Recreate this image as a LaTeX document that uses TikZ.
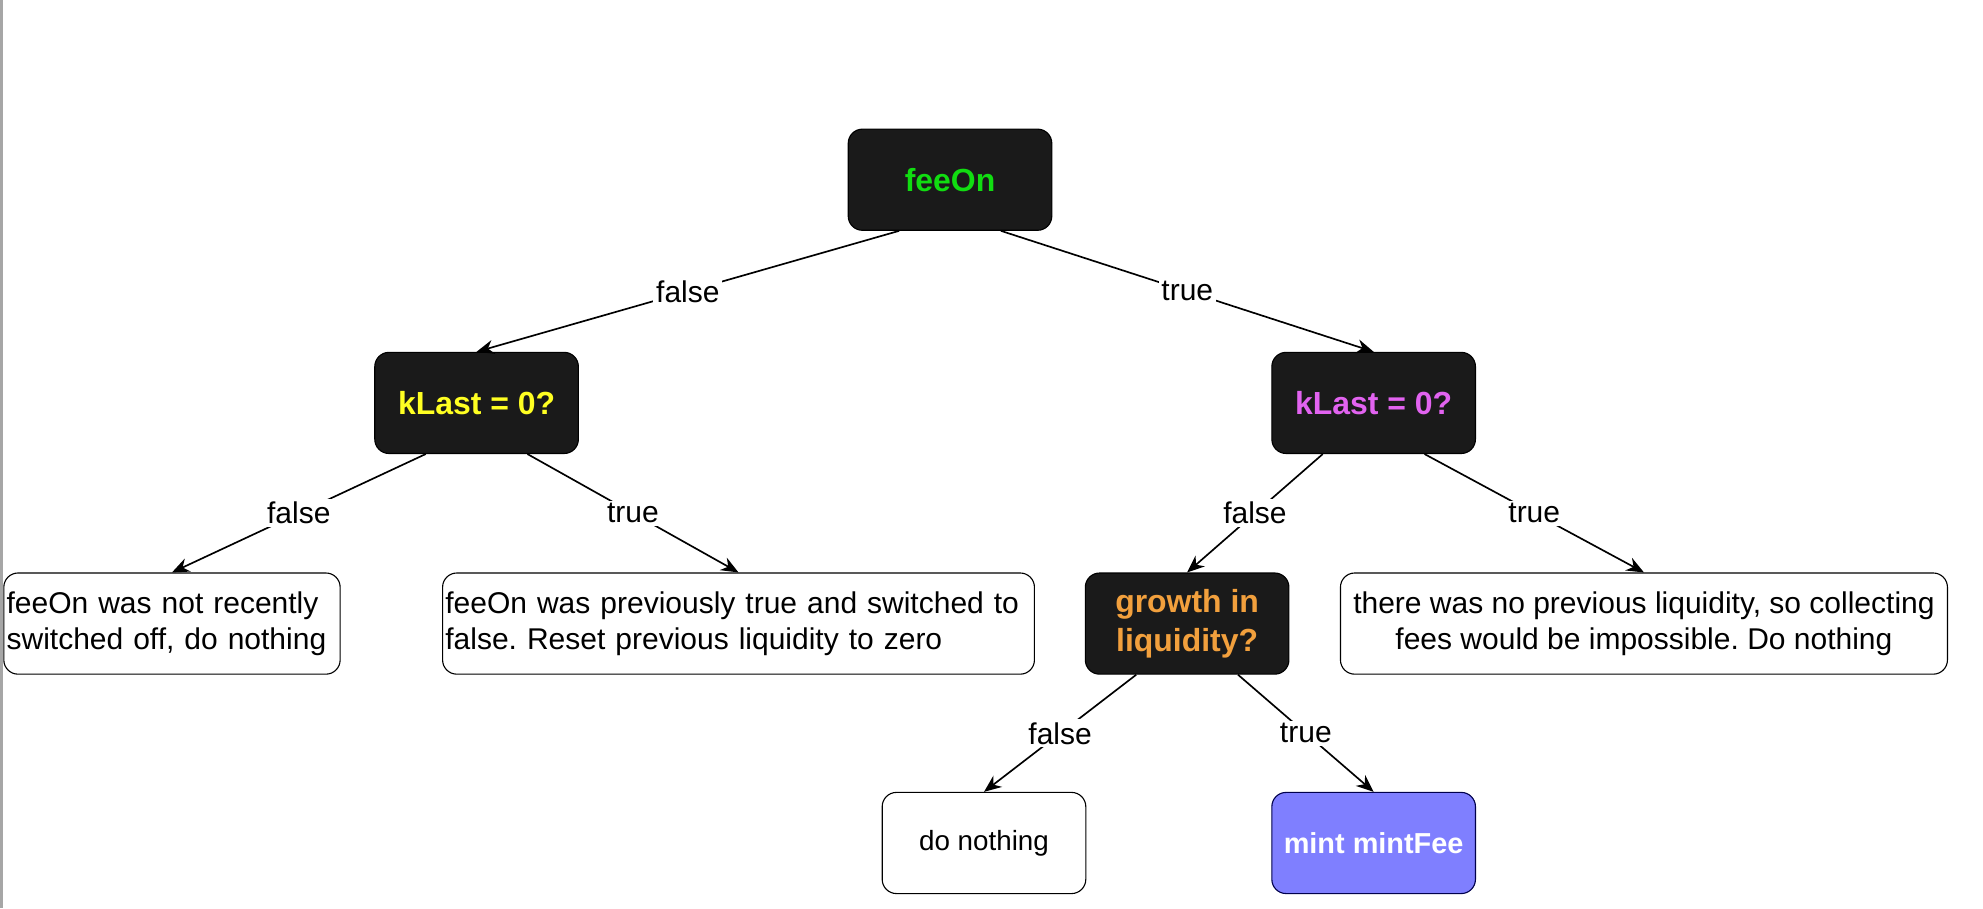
\documentclass[tikz,border=0pt]{standalone}
\usepackage{fontspec}
\setmainfont{Liberation Sans}
\usepackage{tikz}
\usetikzlibrary{arrows.meta}
\definecolor{boxblack}{HTML}{1A1A1A}
\definecolor{feegreen}{HTML}{11DD11}
\definecolor{klyellow}{HTML}{FFFF22}
\definecolor{klpink}{HTML}{E263F0}
\definecolor{grorange}{HTML}{F2A03D}
\definecolor{mintblue}{HTML}{7F7FFF}
\tikzstyle{decision} = [rectangle, draw=black, fill=boxblack, rounded corners=0.18cm,
                        minimum width=2.576cm, minimum height=1.28cm,
                        font=\fontsize{11.5}{13.8}\selectfont\bfseries, align=center, inner sep=2pt]
\tikzstyle{leaf} = [rectangle, draw=black, fill=white, rounded corners=0.18cm,
                    minimum height=1.28cm, inner xsep=1pt, align=left]
\tikzstyle{branch} = [draw, ->, >={Stealth[length=2.2mm,width=1.8mm]}, line width=0.6pt]
\tikzstyle{lbl} = [fill=white, inner sep=1pt]

\begin{document}
\frenchspacing
\begin{tikzpicture}[font=\fontsize{10.8}{13.2}\selectfont]
\useasboundingbox (0,0) rectangle (25.09,11.49);
\draw[gray!70, line width=0.8pt] (0.02,0) -- (0.02,11.49);

%Root
\node[decision, text=feegreen] at (12.02,9.216) (feeOn){feeOn};

%Second level
\node[decision, text=klyellow] at (6.03,6.392) (klastL){kLast = 0?};
\node[decision, text=klpink] at (17.38,6.392) (klastR){kLast = 0?};

%Third level
\node[leaf, text width=4.185cm] at (2.176,3.6) (notoff){feeOn was not recently\\switched off, do nothing};
\node[leaf, text width=7.418cm] at (9.344,3.6) (reset){\mbox{feeOn was previously true and switched to}\\false. Reset previous liquidity to zero};
\node[decision, text=grorange] at (15.02,3.6) (growth){growth in\\liquidity?};
\node[leaf, minimum width=7.68cm, align=center] at (20.8,3.6) (noliq){there was no previous liquidity, so collecting\\fees would be impossible. Do nothing};

%Bottom
\node[leaf, minimum width=2.576cm, align=center, font=\fontsize{10}{12}\selectfont] at (12.45,0.824) (nothing){do nothing};
\node[decision, fill=mintblue, draw=black!70!blue, text=white, font=\fontsize{10.4}{12.5}\selectfont\bfseries] at (17.38,0.824) (mint){mint mintFee};

%Branches
\draw[branch] ([xshift=-0.644cm]feeOn.south) -- node[lbl]{false} (klastL.north);
\draw[branch] ([xshift=0.644cm]feeOn.south) -- node[lbl]{true} (klastR.north);
\draw[branch] ([xshift=-0.644cm]klastL.south) -- node[lbl]{false} (notoff.north);
\draw[branch] ([xshift=0.644cm]klastL.south) -- node[lbl]{true} (reset.north);
\draw[branch] ([xshift=-0.644cm]klastR.south) -- node[lbl]{false} (growth.north);
\draw[branch] ([xshift=0.644cm]klastR.south) -- node[lbl]{true} (noliq.north);
\draw[branch] ([xshift=-0.644cm]growth.south) -- node[lbl]{false} (nothing.north);
\draw[branch] ([xshift=0.644cm]growth.south) -- node[lbl]{true} (mint.north);

\end{tikzpicture}
\end{document}
